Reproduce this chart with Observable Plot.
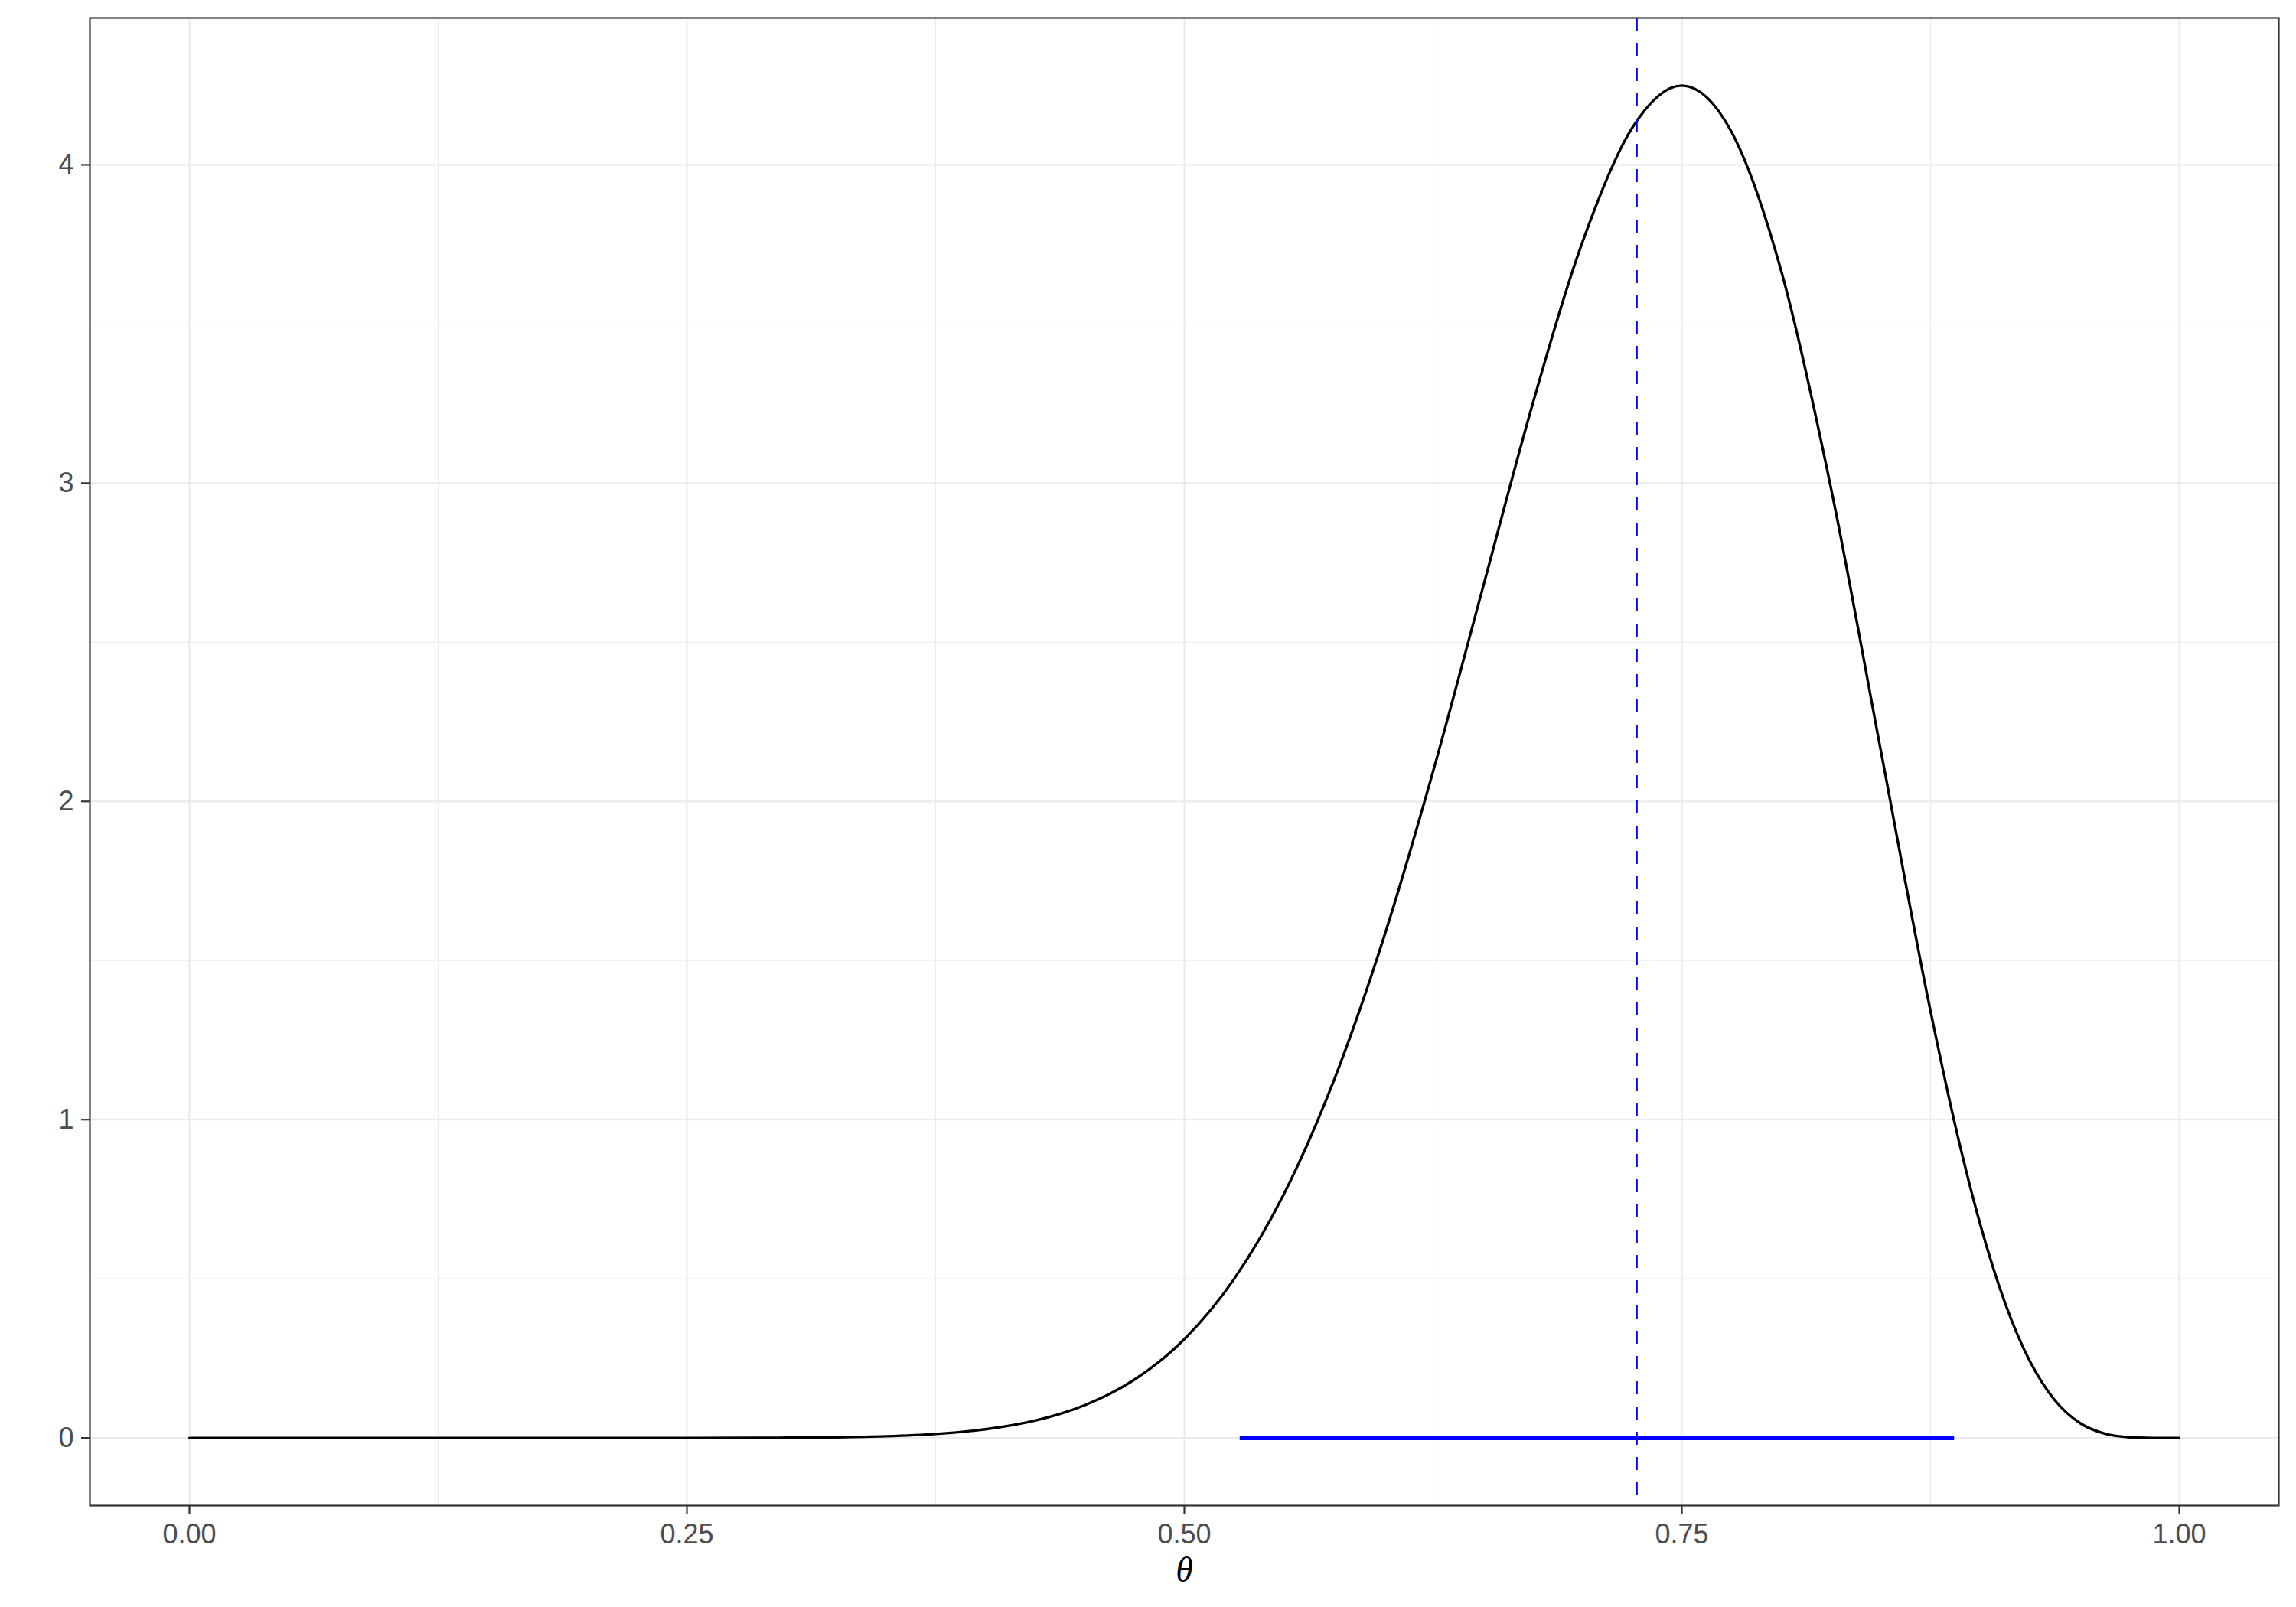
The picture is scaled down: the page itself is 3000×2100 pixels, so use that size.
<!DOCTYPE html>
<html><head><meta charset="utf-8">
<script src="https://cdn.jsdelivr.net/npm/d3@7"></script>
<script src="https://cdn.jsdelivr.net/npm/@observablehq/plot@0.6"></script>
<style>
body{margin:0;background:#fff}
g[aria-label$="tick label"]{fill:#4D4D4D}
</style></head><body><div id="chart"></div>
<script>
const theta = [0, 0.1, 0.2, 0.25, 0.3, 0.325, 0.35, 0.375, 0.4, 0.425, 0.4375, 0.45, 0.4625, 0.475, 0.5, 0.525, 0.55, 0.575, 0.6, 0.625, 0.65, 0.675, 0.7, 0.725, 0.75, 0.775, 0.8, 0.825, 0.85, 0.875, 0.8875, 0.9, 0.9125, 0.925, 0.9375, 0.95, 0.9625, 0.975, 0.9875, 1.0];
const density = [0, 0, 0.0000035, 0.000072, 0.000785, 0.00217, 0.00548, 0.01267, 0.0272, 0.05456, 0.0755, 0.10296, 0.13838, 0.18362, 0.3105, 0.4995, 0.7659, 1.121, 1.5676, 2.0943, 2.6712, 3.2481, 3.7562, 4.1154, 4.249, 4.1031, 3.6658, 2.9831, 2.1598, 1.3407, 0.9794, 0.6703, 0.4229, 0.2399, 0.1180, 0.0471, 0.0136, 0.00217, 0.00008, 0];
const meanTheta = 0.7273;
const intervalLow = 0.528;
const intervalHigh = 0.887;
const xTicks = [0, 0.25, 0.5, 0.75, 1];
const xMinor = [0.125, 0.375, 0.625, 0.875];
const yTicks = [0, 1, 2, 3, 4];
const yMinor = [0.5, 1.5, 2.5, 3.5];
const xLabel = "θ";

const curveData = theta.map((t, i) => ({theta: t, density: density[i]}));
const intervalData = [{x1: intervalLow, x2: intervalHigh, y: 0}];

const chart = Plot.plot({
  width: 3000,
  height: 2100,
  marginLeft: 117,
  marginRight: 23,
  marginTop: 23,
  marginBottom: 133,
  style: {fontFamily: "Liberation Sans, Arial, sans-serif", fontSize: "36px", background: "white"},
  x: {domain: [-0.05, 1.05], label: null},
  y: {domain: [-0.2125, 4.4615], label: null},
  marks: [
    Plot.ruleX(xMinor, {stroke: "#EBEBEB", strokeWidth: 1.1}),
    Plot.ruleY(yMinor, {stroke: "#EBEBEB", strokeWidth: 1.1}),
    Plot.ruleX(xTicks, {stroke: "#EBEBEB", strokeWidth: 2.2}),
    Plot.ruleY(yTicks, {stroke: "#EBEBEB", strokeWidth: 2.2}),
    Plot.line(curveData, {x: "theta", y: "density", curve: "monotone-x", stroke: "black", strokeWidth: 3.4}),
    Plot.ruleY(intervalData, {y: "y", x1: "x1", x2: "x2", stroke: "blue", strokeWidth: 6}),
    Plot.ruleX([meanTheta], {stroke: "blue", strokeWidth: 2.7, strokeDasharray: "17,16"}),
    Plot.frame({stroke: "#333333", strokeWidth: 2.2}),
    Plot.axisX({ticks: xTicks, tickFormat: d3.format(".2f"), tickSize: 11, tickPadding: 13, fontSize: 36, stroke: "#333333", strokeWidth: 2.2, label: null}),
    Plot.axisY({ticks: yTicks, tickFormat: d3.format("d"), tickSize: 11, tickPadding: 10, fontSize: 36, stroke: "#333333", strokeWidth: 2.2, label: null}),
    Plot.text([xLabel], {text: d => d, frameAnchor: "bottom", dy: 85, lineAnchor: "middle", fontSize: 46, fontStyle: "italic", fontFamily: "Liberation Serif, serif", fill: "black"})
  ]
});
document.getElementById("chart").appendChild(chart);
</script></body></html>
